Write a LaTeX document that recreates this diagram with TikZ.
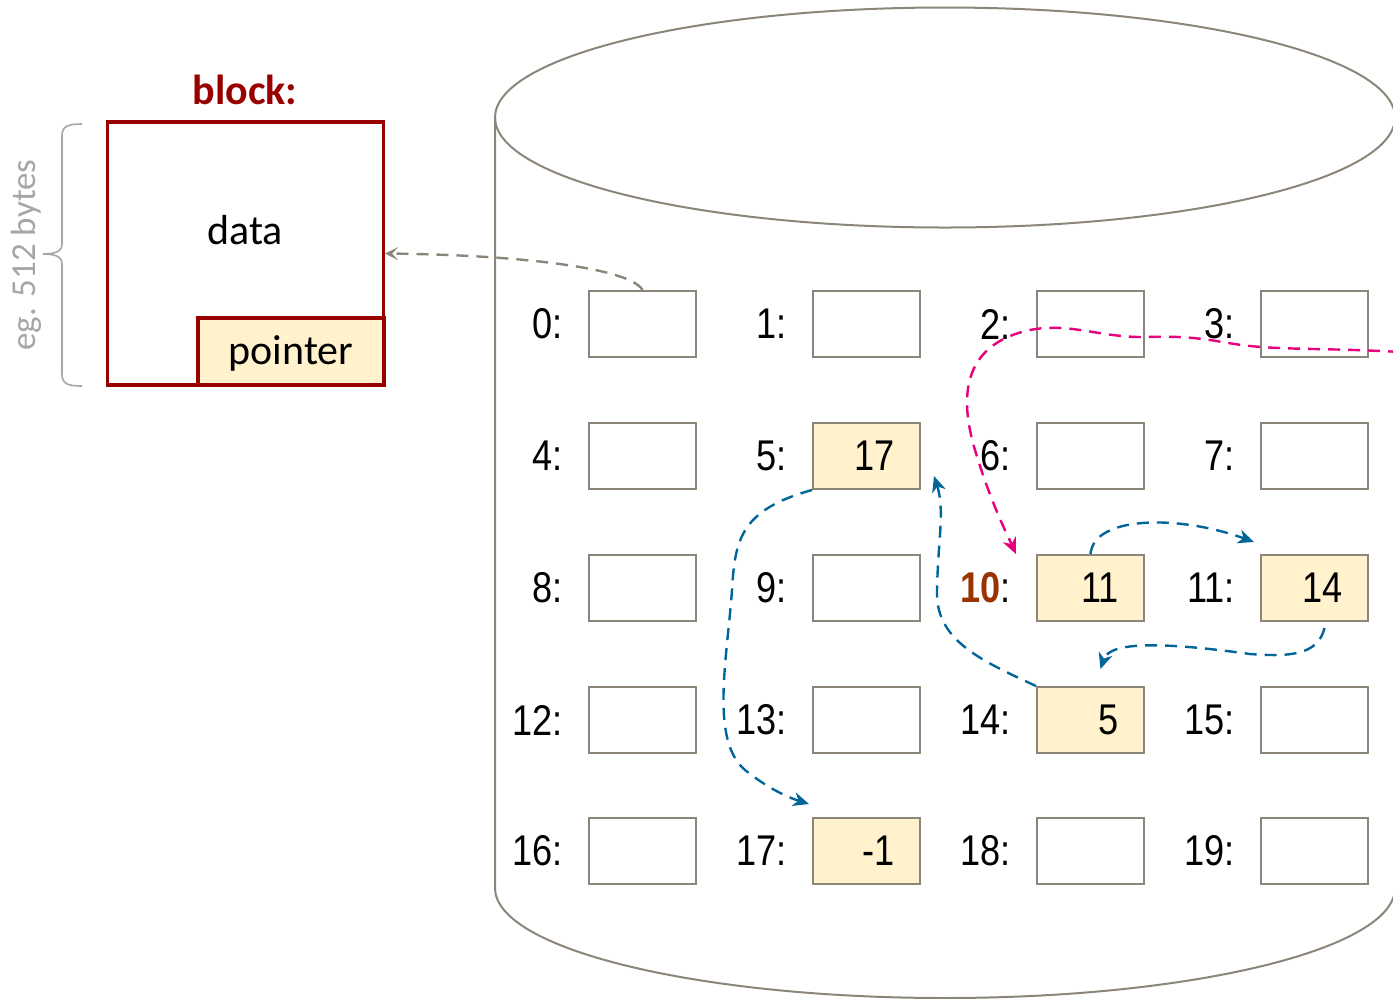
\documentclass[tikz,border=0pt]{standalone}
\usepackage{fontspec}
\setmainfont{Carlito}
\newfontfamily\numfont[FakeStretch=0.84]{Liberation Sans}
\usetikzlibrary{arrows.meta}

\definecolor{cylgray}{RGB}{140,133,121}
\definecolor{cream}{RGB}{255,242,204}
\definecolor{blockred}{RGB}{153,0,0}
\definecolor{bracegray}{RGB}{166,166,166}
\definecolor{linkblue}{RGB}{0,102,153}
\definecolor{freepink}{RGB}{230,0,126}
\definecolor{headbrown}{RGB}{153,51,0}

\tikzset{
  cyl/.style={draw=cylgray, line width=1pt},
  cell/.style={draw=cylgray, line width=1pt, minimum width=53.5pt, minimum height=33pt, inner sep=0pt},
  used/.style={cell, fill=cream},
  idx/.style={anchor=east, xshift=-12.5pt, inner sep=0pt, font=\numfont\fontsize{21.5pt}{26pt}\selectfont},
  val/.style={anchor=east, xshift=-13pt, inner sep=0pt, font=\numfont\fontsize{21.5pt}{26pt}\selectfont},
  blockbox/.style={draw=blockred, line width=1.6pt, inner sep=0pt},
  link/.style={draw=linkblue, line width=1.2pt, dash pattern=on 6pt off 4pt, -{Stealth[length=8pt,width=7pt,inset=2.5pt]}},
  freelink/.style={draw=freepink, line width=1.2pt, dash pattern=on 6pt off 4pt, -{Stealth[length=8pt,width=7pt,inset=2.5pt]}},
  reflink/.style={draw=cylgray, line width=1.2pt, dash pattern=on 6pt off 4pt, -{Stealth[length=6.5pt,width=6.5pt,inset=3pt,open]}}
}

\begin{document}
\begin{tikzpicture}[x=0.5pt, y=-0.5pt]
  \useasboundingbox (0,0) rectangle (1393,998);

  % disk cylinder
  \draw[cyl] (945,117.5) ellipse [x radius=225pt, y radius=55pt];
  \draw[cyl] (495,117.5) -- (495,888)
    arc[start angle=180, end angle=360, x radius=225pt, y radius=55pt]
    -- (1395,117.5);

  % block layout
  \node[blockbox, minimum width=138pt, minimum height=131.5pt] (block) at (245.5,253.5) {};
  \node[blockbox, fill=cream, minimum width=93pt, minimum height=33.5pt] (ptr) at (291,351.5) {};
  \node[font=\fontsize{21pt}{25pt}\selectfont] (datatxt) at (245,230) {data};
  \node[font=\fontsize{21pt}{25pt}\selectfont] (ptrtxt) at (291,353) {pointer};
  \node[font=\bfseries\fontsize{21pt}{25pt}\selectfont, text=blockred] (title) at (245,90) {block:};

  % size brace
  \draw[bracegray, line width=0.8pt]
    (82,124) .. controls (68,124) and (62,126) .. (62,136)
    -- (62,244) .. controls (62,251) and (56,254) .. (43,254)
    .. controls (56,254) and (62,257) .. (62,264)
    -- (62,374) .. controls (62,384) and (68,386) .. (82,386);
  \node[rotate=90, text=bracegray, font=\fontsize{17.5pt}{21pt}\selectfont] (size) at (26,255) {eg. 512 bytes};

  % block cells
  \foreach \i/\cx/\cy in {0/642.5/324, 1/866.5/324, 2/1090.5/324, 3/1314.5/324,
                          4/642.5/456, 6/1090.5/456, 7/1314.5/456,
                          8/642.5/588, 9/866.5/588,
                          12/642.5/720, 13/866.5/720, 15/1314.5/720,
                          16/642.5/851, 18/1090.5/851, 19/1314.5/851}
    \node[cell] (c\i) at (\cx,\cy) {};
  \node[used] (c5) at (866.5,456) {};
  \node[used] (c10) at (1090.5,588) {};
  \node[used] (c11) at (1314.5,588) {};
  \node[used] (c14) at (1090.5,720) {};
  \node[used] (c17) at (866.5,851) {};

  % block numbers
  \foreach \i in {0,...,9,11,12,...,19}
    \node[idx] (l\i) at (c\i.west) {\i:};
  \node[idx] (l10) at (c10.west) {\textcolor{headbrown}{\bfseries 10}:};

  % stored next pointers
  \node[val] (v5) at (c5.east) {17};
  \node[val] (v10) at (c10.east) {11};
  \node[val] (v11) at (c11.east) {14};
  \node[val] (v14) at (c14.east) {5};
  \node[val] (v17) at (c17.east) {-1};

  % reference from a cell to the block layout
  \draw[reflink] (c0.north) .. controls (630,268) and (520,255) .. (block.east);

  % free list head entering from the right
  \coordinate (freein) at (1400,352);
  \draw[freelink] (freein) .. controls (1330,348) and (1290,350) .. (1250,346)
    .. controls (1220,343) and (1200,335) .. (1147,337)
    .. controls (1100,338) and (1070,322) .. (1030,330)
    .. controls (960,345) and (960,400) .. (975,450)
    .. controls (990,500) and (1005,530) .. ([xshift=-10pt]c10.north west);

  % chain of linked blocks
  \draw[link] (c10.north) .. controls (1094,515) and (1180,515) .. ([xshift=-3pt,yshift=6pt]c11.north west);
  \draw[link] ([xshift=5pt,yshift=-3pt]c11.south) .. controls (1318,655) and (1290,657) .. (1250,654)
    .. controls (1170,643) and (1110,640) .. ([xshift=5pt,yshift=8.5pt]c14.north);
  \draw[link] (c14.north west) .. controls (980,660) and (935,640) .. (937,590)
    .. controls (938,540) and (945,510) .. ([xshift=6.5pt,yshift=7pt]c5.south east);
  \draw[link] (c5.south west) .. controls (740,510) and (735,540) .. (732,590)
    .. controls (727,660) and (710,740) .. (745,770)
    .. controls (770,790) and (790,798) .. ([xshift=-1.5pt,yshift=6.5pt]c17.north west);
\end{tikzpicture}
\end{document}
